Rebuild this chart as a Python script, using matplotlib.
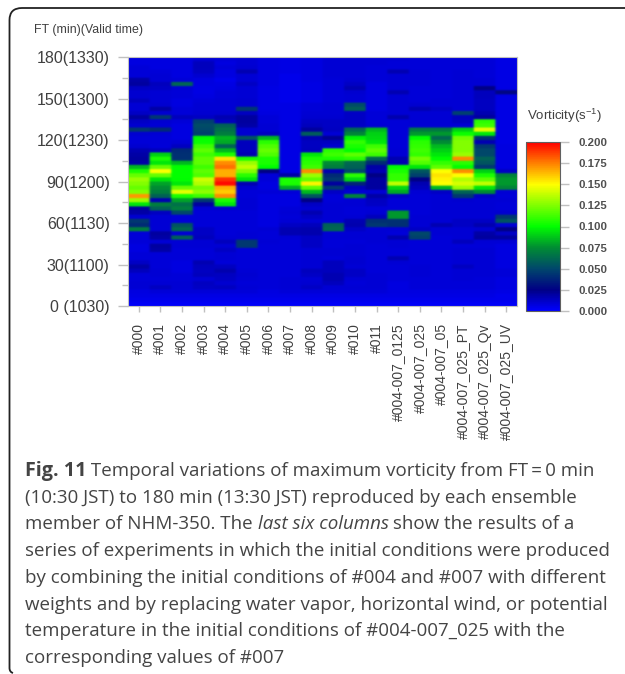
import numpy as np
import matplotlib
matplotlib.use('Agg')
import matplotlib.pyplot as plt
from matplotlib.colors import LinearSegmentedColormap
from matplotlib.patches import PathPatch
from matplotlib.path import Path

plt.rcParams['font.family'] = 'Liberation Sans'
plt.rcParams['mathtext.default'] = 'regular'

# ensemble members
members = ['#000', '#001', '#002', '#003', '#004', '#005', '#006', '#007', '#008',
           '#009', '#010', '#011', '#004-007_0125', '#004-007_025', '#004-007_05',
           '#004-007_025_PT', '#004-007_025_Qv', '#004-007_025_UV']

# maximum vorticity (1e-3 s-1), 3 min rows, from FT=180 at the top down to FT=0
m000 = [7,7,8,8,8,18,20,12,10,10, 14,9,9,12,20,12,10,45,10,8,
        8,10,16,18,20,18,85,105,120,130, 125,120,125,170,130,95,20,18,10,45,
        40,70,8,8,8,7,7,8,8,12, 18,14,8,8,9,9,7,6,4,2]
m001 = [7,7,7,8,9,9,14,12,9,9, 9,10,18,10,45,10,9,40,9,8,
        8,8,14,90,105,95,120,150,120,95, 80,75,70,60,16,70,60,13,9,9,
        9,9,20,18,9,20,18,8,8,8, 8,9,9,8,9,13,8,6,4,2]
m002 = [7,7,7,7,7,8,62,9,8,8, 7,7,8,8,14,8,7,7,7,7,
        9,13,40,42,42,85,100,100,100,100, 95,120,145,105,80,65,70,50,8,8,
        55,62,9,60,9,9,8,8,8,7, 7,7,8,8,9,9,8,6,4,2]
m003 = [9,14,14,13,10,7,7,6,6,7, 8,9,9,10,12,48,52,50,48,100,
        102,112,118,112,118,118,112,118,115,140, 135,122,128,112,45,20,9,8,8,8,
        8,12,12,14,9,9,8,8,8,16, 14,13,14,9,13,12,8,6,4,2]
m004 = [8,7,8,7,7,4,6,7,8,8, 9,9,9,10,16,14,60,65,70,85,
        82,60,85,105,155,172,178,165,165,190, 198,165,160,172,105,95,10,8,8,8,
        8,8,8,9,14,9,12,9,9,8, 13,17,13,12,10,13,8,6,4,2]
m005 = [9,9,10,16,9,9,12,9,9,9, 10,10,45,13,20,20,18,10,10,55,
        14,14,14,16,105,130,138,125,108,95, 16,10,8,8,9,9,9,8,8,8,
        8,8,9,9,45,45,8,8,8,8, 8,9,10,9,8,9,8,6,4,2]
m006 = [7,7,7,7,7,7,7,6,6,6, 6,6,6,7,8,8,9,9,13,85,
        108,115,120,115,105,105,100,25,8,8, 7,7,8,7,7,7,7,7,7,7,
        7,9,8,8,9,8,8,8,8,8, 8,8,8,8,8,8,7,6,4,2]
m007 = [6,6,6,6,4,4,4,4,4,4, 4,6,6,6,6,6,6,6,6,6,
        6,6,6,6,6,6,6,6,18,105, 105,82,8,7,7,7,8,9,8,9,
        12,16,16,9,8,8,8,8,8,8, 8,8,8,9,9,9,8,6,4,2]
m008 = [7,7,7,7,7,7,6,6,6,6, 6,8,8,9,10,12,14,20,58,16,
        13,13,14,95,105,108,112,172,130,118, 152,118,85,55,25,12,10,16,12,9,
        14,17,17,12,12,12,9,9,9,9, 9,14,12,9,10,12,8,6,4,2]
m009 = [9,9,9,9,9,8,8,8,8,8, 8,9,9,9,10,12,12,13,9,22,
        13,10,108,112,105,75,70,16,40,45, 20,45,12,8,8,9,9,9,9,9,
        60,62,9,9,8,8,9,9,8,14, 14,14,16,16,14,9,8,6,4,2]
m010 = [9,9,9,9,9,10,12,16,10,9, 9,52,58,12,12,12,12,62,72,98,
        110,105,100,118,108,62,60,50,108,92, 38,14,9,72,9,9,8,8,9,16,
        17,12,9,9,8,9,9,9,10,10, 9,12,12,9,8,9,8,6,4,2]
m011 = [9,9,8,8,8,8,7,7,7,7, 7,7,7,8,8,8,9,85,90,92,
        95,112,118,112,62,40,18,16,25,20, 20,20,9,18,13,12,8,9,14,42,
        45,9,9,9,9,8,8,8,8,8, 8,8,9,9,9,9,8,6,4,2]
m0125 = [9,8,8,16,9,9,9,9,16,9, 9,9,9,9,17,8,8,8,8,8,
         8,8,9,9,16,16,100,105,110,110, 138,92,82,12,8,8,8,78,78,42,
         42,9,8,17,9,9,8,8,16,9, 8,8,8,8,7,7,7,6,4,2]
m025 = [8,8,8,9,9,9,9,8,8,8, 8,10,16,9,9,9,9,68,78,100,
        108,110,112,110,122,116,95,55,48,25, 16,14,9,8,8,8,8,8,9,9,
        9,12,50,48,8,8,8,8,8,8, 9,9,9,8,8,8,7,6,4,2]
m05 = [8,8,8,8,8,8,8,8,8,8, 9,9,12,9,9,9,9,68,78,62,
       75,85,90,95,100,110,118,150,155,152, 150,85,12,9,9,9,9,9,9,9,
       16,9,9,8,8,8,8,8,8,8, 8,8,8,8,8,8,7,6,4,2]
m025_pt = [8,8,8,9,9,9,9,9,9,9, 9,9,9,48,14,13,9,90,102,122,
           125,125,125,130,172,108,100,172,150,135, 142,130,60,45,10,9,9,9,9,12,
           12,9,9,9,14,8,9,9,9,9, 13,9,9,9,8,8,7,6,4,2]
m025_qv = [8,8,8,8,8,9,9,25,14,14, 13,13,13,16,20,108,112,145,95,42,
           16,45,50,50,60,55,45,90,105,118, 138,95,75,12,9,9,9,9,9,12,
           17,10,18,20,9,8,9,9,9,9, 9,9,9,8,8,8,7,6,4,2]
m025_uv = [6,6,6,6,6,6,6,6,28,6, 6,6,6,6,6,6,6,6,6,6,
           6,7,7,7,7,7,7,12,72,78, 78,72,9,8,9,8,8,10,45,55,
           9,25,12,20,9,7,7,7,7,7, 7,8,8,7,7,7,6,4,4,2]

y_ticks = [0, 30, 60, 90, 120, 150, 180]
y_labels = ['0 (1030)', '30(1100)', '60(1130)', '90(1200)', '120(1230)', '150(1300)', '180(1330)']
cbar_ticks = [0.0, 0.025, 0.05, 0.075, 0.1, 0.125, 0.15, 0.175, 0.2]

# caption as (text, style) pieces per line
caption = [
    [('Fig. 11', 'bold'), (' Temporal variations of maximum vorticity from FT\u2009=\u20090 min', 'normal')],
    [('(10:30 JST) to 180 min (13:30 JST) reproduced by each ensemble', 'normal')],
    [('member of NHM-350. The ', 'normal'), ('last six columns', 'italic'), (' show the results of a', 'normal')],
    [('series of experiments in which the initial conditions were produced', 'normal')],
    [('by combining the initial conditions of #004 and #007 with different', 'normal')],
    [('weights and by replacing water vapor, horizontal wind, or potential', 'normal')],
    [('temperature in the initial conditions of #004-007_025 with the', 'normal')],
    [('corresponding values of #007', 'normal')],
]

W, H = 625, 674
GREY = '#404040'
fig = plt.figure(figsize=(W / 100, H / 100), dpi=100, facecolor='white')

def px_rect(left, top, right, bottom):
    return [left / W, 1 - bottom / H, (right - left) / W, (bottom - top) / H]

cmap = LinearSegmentedColormap.from_list('vort', [
    (0.0, (0, 0, 1)), (0.125, (0, 0, 0.52)), (0.25, (0, 0.28, 0.42)), (0.375, (0, 0.55, 0.2)),
    (0.5, (0, 1, 0)), (0.625, (0.5, 1, 0)), (0.75, (1, 1, 0)), (0.875, (1, 0.5, 0)), (1.0, (1, 0, 0))])

data = np.array([m000, m001, m002, m003, m004, m005, m006, m007, m008, m009, m010, m011,
                 m0125, m025, m05, m025_pt, m025_qv, m025_uv]).T / 1000.0

# heat map, the cells repeated so the soft edge stays about 2 px wide
ax = fig.add_axes(px_rect(128, 57.3, 517, 306))
fine = np.repeat(np.repeat(data, 2, axis=0), 8, axis=1)
mesh = ax.imshow(fine, cmap=cmap, vmin=0, vmax=0.2, aspect='auto', extent=(0, len(members), 0, 180),
                 interpolation='gaussian', interpolation_stage='rgba')
ax.set_xticks(np.arange(len(members)) + 0.5)
ax.set_xticklabels(members, rotation=90, fontsize=10, color=GREY)
ax.set_yticks(y_ticks)
ax.set_yticklabels(y_labels, fontsize=11.5, color=GREY)
ax.set_yticks([15, 45, 75, 105, 135, 165], minor=True)
ax.tick_params(axis='y', which='major', length=7.2, width=1, color='#c0c0c0', pad=6)
ax.tick_params(axis='y', which='minor', length=4.3, width=1, color='#c0c0c0')
ax.tick_params(axis='x', length=4.3, width=1, color='#c0c0c0', pad=8)
for spine in ax.spines.values():
    spine.set_color('#c0c0c0')

fig.text(34 / W, 1 - 30.5 / H, 'FT (min)(Valid time)', fontsize=8.9, color=GREY, va='center')

# colour bar
cax = fig.add_axes(px_rect(525.5, 142, 560, 311))
cb = fig.colorbar(mesh, cax=cax, ticks=cbar_ticks)
cb.ax.set_yticklabels(['%.3f' % t for t in cbar_ticks], fontsize=8.2, color='#505050', fontweight='bold')
cb.ax.tick_params(length=6.5, width=1, color='#c0c0c0', pad=7)
cb.outline.set_edgecolor('#606060')
fig.text(527 / W, 1 - 116 / H, 'Vorticity(s$^{-1}$)', fontsize=9.5, color=GREY, va='center')

# rounded frame round the figure, open at the bottom right
frame = Path([(13, 673), (9.5, 672), (9.5, 668), (9.5, 20), (9.5, 8), (22, 8), (W + 5, 8)],
             [Path.MOVETO, Path.CURVE3, Path.CURVE3, Path.LINETO, Path.CURVE3, Path.CURVE3, Path.LINETO])
frame = Path(np.column_stack([frame.vertices[:, 0] / W, 1 - frame.vertices[:, 1] / H]), frame.codes)
fig.add_artist(PathPatch(frame, transform=fig.transFigure, fill=False, edgecolor='#222222', linewidth=1.3))

# caption, one piece after the other so the bold and italic parts line up
renderer = fig.canvas.get_renderer()
for n, line in enumerate(caption):
    x = 25.0
    y = 476 + n * 26.7
    for piece, style in line:
        t = fig.text(x / W, 1 - y / H, piece, family='Open Sans', color='#444444', va='baseline',
                     fontsize=14.2 if style == 'bold' else 13.5,
                     fontweight='bold' if style == 'bold' else 'normal',
                     fontstyle='italic' if style == 'italic' else 'normal')
        t.set_text(piece + '.')
        with_dot = t.get_window_extent(renderer).x1
        t.set_text('.')
        dot = t.get_window_extent(renderer).width
        t.set_text(piece)
        x = with_dot - dot

fig.savefig('out.png', dpi=100)
